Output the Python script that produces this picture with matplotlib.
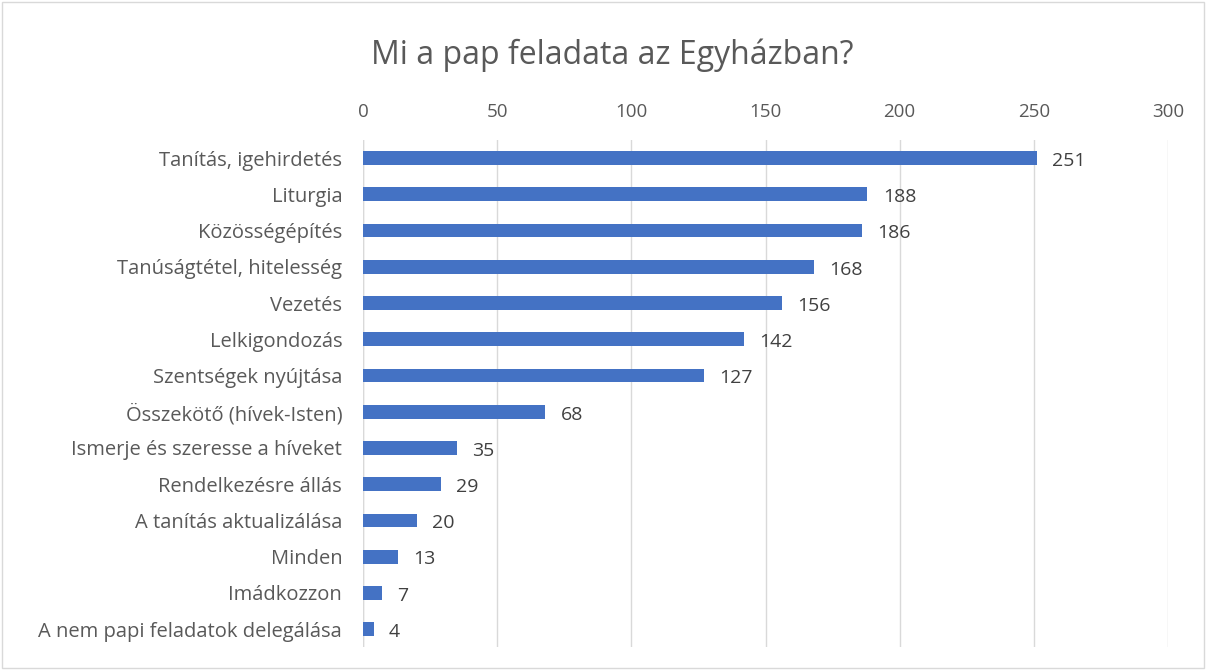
import matplotlib.pyplot as plt
import matplotlib
from matplotlib.patches import Rectangle

matplotlib.rcParams['font.family'] = ['Open Sans', 'DejaVu Sans']

categories = [
    'Tanítás, igehirdetés',
    'Liturgia',
    'Közösségépítés',
    'Tanúságtétel, hitelesség',
    'Vezetés',
    'Lelkigondozás',
    'Szentségek nyújtása',
    'Összekötő (hívek-Isten)',
    'Ismerje és szeresse a híveket',
    'Rendelkezésre állás',
    'A tanítás aktualizálása',
    'Minden',
    'Imádkozzon',
    'A nem papi feladatok delegálása',
]
values = [251, 188, 186, 168, 156, 142, 127, 68, 35, 29, 20, 13, 7, 4]
x_ticks = [0, 50, 100, 150, 200, 250, 300]

text_color = '#595959'
bar_color = '#4472C4'

fig = plt.figure(figsize=(12.06, 6.7), dpi=100)
fig.patch.set_facecolor('white')
ax = fig.add_axes([0.301, 0.034, 0.6675, 0.757])

y = list(range(len(categories)))
ax.barh(y, values, height=0.38, color=bar_color, zorder=3)
for yi, v in zip(y, values):
    ax.annotate(str(v), (v, yi), xytext=(11, -2), textcoords='offset points',
                va='center', ha='left', fontsize=14, color='#404040')

ax.set_xlim(0, 300)
ax.set_ylim(len(categories) - 0.5, -0.5)
ax.set_xticks(x_ticks)
ax.xaxis.tick_top()
ax.set_yticks(y)
ax.set_yticklabels(categories)
ax.tick_params(axis='x', length=0, pad=14, labelsize=13.5, labelcolor=text_color)
ax.tick_params(axis='y', length=0, pad=15, labelsize=14.5, labelcolor=text_color)
ax.grid(axis='x', color='#D9D9D9', linewidth=1, zorder=0)
for s in ax.spines.values():
    s.set_visible(False)
ax.axvline(0, color='#D9D9D9', linewidth=1, zorder=2)

fig.text(0.508, 0.918, 'Mi a pap feladata az Egyházban?', ha='center', va='center',
         fontsize=23, color=text_color)

fig.patches.append(Rectangle((0.002, 0.003), 0.996, 0.994, transform=fig.transFigure,
                             fill=False, edgecolor='#D9D9D9', linewidth=1))

fig.savefig('out.png', dpi=100, facecolor='white')
